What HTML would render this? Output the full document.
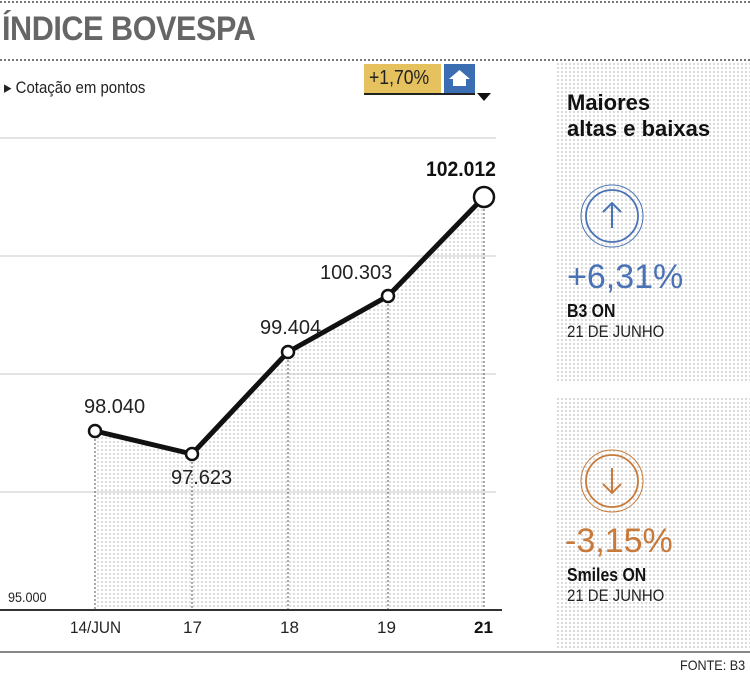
<!DOCTYPE html>
<html><head><meta charset="utf-8"><style>
body{margin:0;width:750px;height:677px;background:#fff;font-family:"Liberation Sans",sans-serif;overflow:hidden;position:relative}
.t{position:absolute;white-space:nowrap}
.dots{background-image:radial-gradient(circle,#d0d0d0 0.9px,transparent 1.1px);background-size:4px 4px}
.hl{position:absolute;left:0;width:750px;height:0;border-top:2px dotted #777}
</style></head><body>
<div class="hl" style="top:1px"></div>
<div class="t" style="left:2px;top:10px;font-size:34px;font-weight:bold;color:#666;letter-spacing:-0.5px;transform:scaleX(0.9);transform-origin:left">ÍNDICE BOVESPA</div>
<div class="hl" style="top:59px"></div>
<div class="t" style="left:4px;top:78px;font-size:17px;color:#222;transform:scaleX(0.88);transform-origin:left">▸ Cotação em pontos</div>
<div style="position:absolute;left:364px;top:64px;width:77px;height:29px;background:#e6c25e"></div>
<div class="t" style="left:369px;top:67px;font-size:20px;color:#222;transform:scaleX(0.88);transform-origin:left">+1,70%</div>
<div style="position:absolute;left:444px;top:64px;width:31px;height:29px;background:#3b6db3"></div>
<svg style="position:absolute;left:444px;top:64px" width="31" height="29"><polygon points="15.5,6 26,15 22,15 22,22 9,22 9,15 5,15" fill="#fff"/></svg>
<div style="position:absolute;left:364px;top:93px;width:111px;height:2px;background:#222"></div>
<svg style="position:absolute;left:475px;top:93px" width="20" height="10"><polygon points="2,0 16,0 9,8" fill="#111"/></svg>
<div class="dots" style="position:absolute;left:556px;top:62px;width:194px;height:320px"></div>
<div class="dots" style="position:absolute;left:556px;top:397px;width:194px;height:253px"></div>
<svg style="position:absolute;left:0;top:0" width="750" height="677">
<defs><pattern id="p" width="4" height="4" patternUnits="userSpaceOnUse"><circle cx="2" cy="2" r="0.9" fill="#c4c4c4"/></pattern></defs>
<g stroke="#e4e4e4" stroke-width="2"><line x1="0" y1="138" x2="496" y2="138"/><line x1="0" y1="256" x2="496" y2="256"/><line x1="0" y1="374" x2="496" y2="374"/><line x1="0" y1="492" x2="496" y2="492"/></g>
<polygon points="95,431 192,454 288,352 388,296 484,197 484,610 95,610" fill="url(#p)"/>
<g stroke="#555" stroke-width="1" stroke-dasharray="2,2"><line x1="95" y1="431" x2="95" y2="610"/><line x1="192" y1="454" x2="192" y2="610"/><line x1="288" y1="352" x2="288" y2="610"/><line x1="388" y1="296" x2="388" y2="610"/><line x1="484" y1="197" x2="484" y2="610"/></g>
<line x1="0" y1="610" x2="502" y2="610" stroke="#333" stroke-width="2"/>
<line x1="0" y1="652" x2="750" y2="652" stroke="#888" stroke-width="2"/>
<polyline points="95,431 192,454 288,352 388,296 484,197" fill="none" stroke="#111" stroke-width="5" stroke-linejoin="round"/>
<g fill="#fff" stroke="#111" stroke-width="2.5"><circle cx="95" cy="431" r="6"/><circle cx="192" cy="454" r="6"/><circle cx="288" cy="352" r="6"/><circle cx="388" cy="296" r="6"/><circle cx="484" cy="197" r="10"/></g>
<g fill="none" stroke="#4a73b6"><circle cx="612" cy="216" r="31" stroke-width="1"/><circle cx="612" cy="216" r="26" stroke-width="1.8"/><path d="M612 228 V203 M603 212 L612 203 L621 212" stroke-width="2"/></g>
<g fill="none" stroke="#c77a3a"><circle cx="612" cy="481" r="31" stroke-width="1"/><circle cx="612" cy="481" r="26" stroke-width="1.8"/><path d="M612 468 V493 M603 484 L612 493 L621 484" stroke-width="2"/></g>
</svg>
<div class="t" style="left:84px;top:396px;font-size:20px;color:#222">98.040</div>
<div class="t" style="left:171px;top:467px;font-size:20px;color:#222">97.623</div>
<div class="t" style="left:260px;top:317px;font-size:20px;color:#222">99.404</div>
<div class="t" style="left:320px;top:262px;font-size:20px;color:#222">100.303</div>
<div class="t" style="left:426px;top:158px;font-size:21px;font-weight:bold;color:#111;transform:scaleX(0.92);transform-origin:left">102.012</div>
<div class="t" style="left:8px;top:589px;font-size:14px;color:#222;transform:scaleX(0.9);transform-origin:left">95.000</div>
<div class="t" style="left:70px;top:618px;font-size:17px;color:#222;transform:scaleX(0.9);transform-origin:left">14/JUN</div>
<div class="t" style="left:183px;top:618px;font-size:17px;color:#222">17</div>
<div class="t" style="left:280px;top:618px;font-size:17px;color:#222">18</div>
<div class="t" style="left:377px;top:618px;font-size:17px;color:#222">19</div>
<div class="t" style="left:474px;top:618px;font-size:17px;font-weight:bold;color:#111">21</div>
<div class="t" style="left:567px;top:90px;font-size:22px;font-weight:bold;line-height:26px;color:#111">Maiores<br>altas e baixas</div>
<div class="t" style="left:567px;top:258px;font-size:34px;color:#4a73b6">+6,31%</div>
<div class="t" style="left:567px;top:301px;font-size:18px;font-weight:bold;color:#111;transform:scaleX(0.88);transform-origin:left">B3 ON</div>
<div class="t" style="left:567px;top:322px;font-size:17px;color:#222;transform:scaleX(0.88);transform-origin:left">21 DE JUNHO</div>
<div class="t" style="left:565px;top:522px;font-size:34px;color:#c77a3a">-3,15%</div>
<div class="t" style="left:567px;top:565px;font-size:18px;font-weight:bold;color:#111;transform:scaleX(0.88);transform-origin:left">Smiles ON</div>
<div class="t" style="left:567px;top:586px;font-size:17px;color:#222;transform:scaleX(0.88);transform-origin:left">21 DE JUNHO</div>
<div class="t" style="left:680px;top:657px;font-size:14px;color:#222;transform:scaleX(0.9);transform-origin:left">FONTE: B3</div>
</body></html>
